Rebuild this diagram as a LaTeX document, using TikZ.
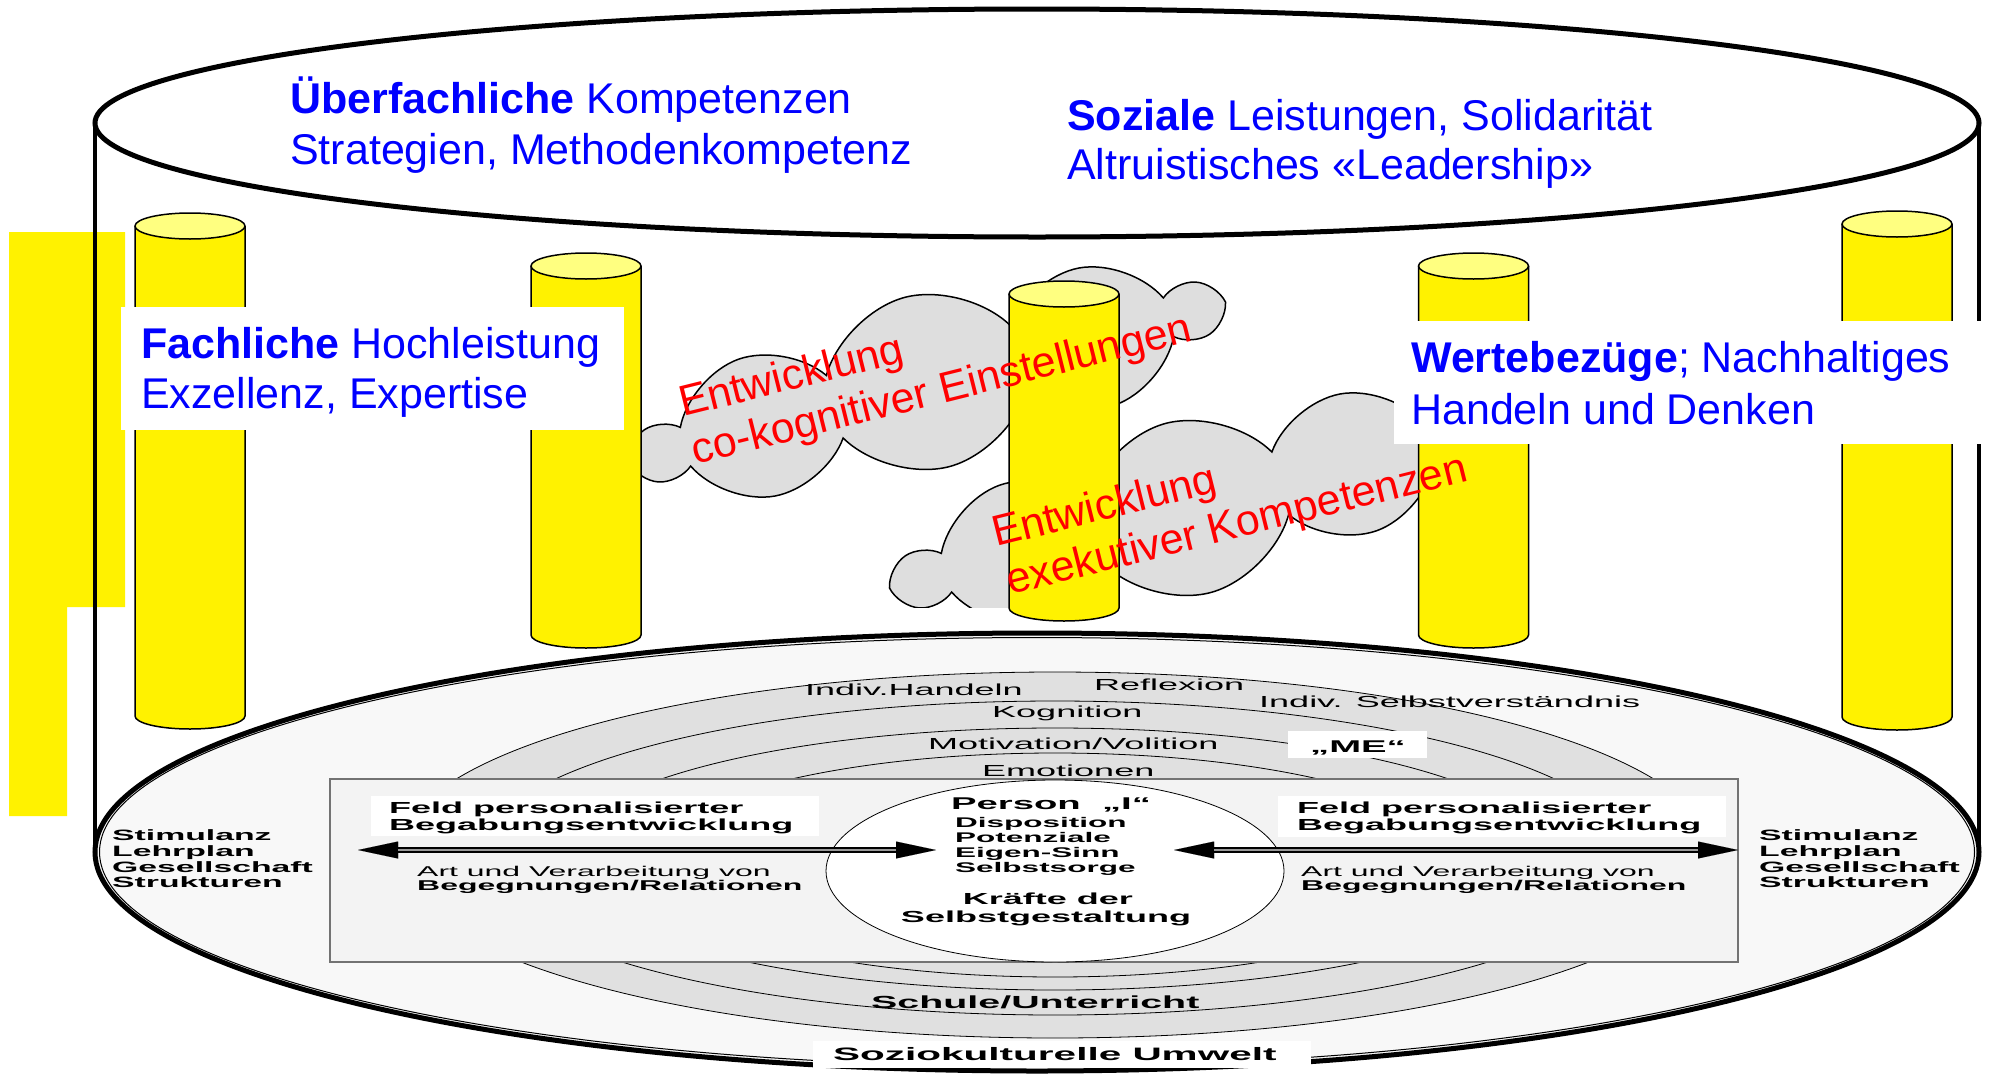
\documentclass[tikz,border=0pt]{standalone}
\usepackage{fontspec}
\setmainfont{Liberation Sans}
\newfontfamily\widefont{Liberation Sans}[FakeStretch=2.25]
\usetikzlibrary{shapes.symbols,arrows.meta}

\definecolor{ringgray}{HTML}{E0E0E0}
\definecolor{basegray}{HTML}{F8F8F8}
\definecolor{boxgray}{HTML}{F3F3F3}
\definecolor{cloudgray}{HTML}{DEDEDE}
\definecolor{pillartopcol}{HTML}{FFFF80}
\definecolor{titleblue}{HTML}{0000FF}
\definecolor{cloudred}{HTML}{FF0000}

\tikzset{
  rim/.style={draw=black, line width=5bp},
  rimside/.style={draw=black, line width=4.5bp},
  pillarline/.style={draw=black, line width=1.5bp},
  pillartop/.style={fill=pillartopcol, draw=black, line width=1.5bp},
  bluetext/.style={text=titleblue, font=\fontsize{43bp}{51bp}\selectfont, inner sep=0pt, anchor=base west},
  redtext/.style={text=cloudred, font=\fontsize{43bp}{51bp}\selectfont, inner sep=0pt, anchor=base west, rotate=14},
  cloudshape/.style={cloud, cloud puffs=10, cloud puff arc=120, cloud ignores aspect,
    fill=cloudgray, draw=black, line width=1.5bp, minimum width=600bp, minimum height=175bp,
    rotate=15, inner sep=0pt},
  ringline/.style={draw=black, line width=0.8bp},
  fieldbox/.style={fill=boxgray, draw=black!55, line width=1.5bp},
  lowreg/.style={font=\widefont\fontsize{#1}{#1}\selectfont, inner sep=0pt, anchor=base west},
  lowbold/.style={font=\widefont\bfseries\fontsize{#1}{#1}\selectfont, inner sep=0pt, anchor=base west},
  relarrow/.style={draw=black, line width=6bp,
    {Triangle[length=40bp 0 0, width=17bp 0 0, line width=0.01bp]}-{Triangle[length=40bp 0 0, width=17bp 0 0, line width=0.01bp]}},
  relcore/.style={draw=black!40, line width=2.5bp, shorten <=40bp, shorten >=40bp},
}

% a yellow column: centre x, top ellipse y, bottom ellipse y
\newcommand{\drawpillar}[3]{%
  \fill[yellow] (#1-55,#2) -- (#1-55,#3) arc[start angle=180, end angle=0, x radius=55, y radius=13] -- (#1+55,#2) -- cycle;
  \draw[pillarline] (#1-55,#2) -- (#1-55,#3) arc[start angle=180, end angle=0, x radius=55, y radius=13] -- (#1+55,#2);
  \filldraw[pillartop] (#1,#2) ellipse[x radius=55, y radius=13];
}

\begin{document}
\begin{tikzpicture}[x=1bp,y=-1bp]
\useasboundingbox (0,0) rectangle (1989,1076);
\fill[white] (0,0) rectangle (1989,1076);

% yellow marker on the left margin
\fill[yellow] (9,232) -- (125,232) -- (125,607) -- (67,607) -- (67,816) -- (9,816) -- cycle;

% floor of the cylinder with its rim
\coordinate (baseC) at (1037,852);
\fill[basegray] (baseC) ellipse[x radius=942, y radius=219];
\draw[rim] (baseC) ellipse[x radius=942, y radius=219];
\draw[draw=black, line width=1bp] (baseC) ellipse[x radius=937.5, y radius=214.5];

% concentric rings around the person
\fill[ringgray] (1055,855) ellipse[x radius=658, y radius=183];
\draw[ringline] (1055,855) ellipse[x radius=658, y radius=183];
\draw[ringline] (1055,858) ellipse[x radius=578, y radius=157];
\draw[ringline] (1055,859) ellipse[x radius=497, y radius=131];
\draw[ringline] (1055,865) ellipse[x radius=411, y radius=112];

% ring labels
\node[lowreg=16bp] (handeln) at (805,695) {Indiv.Handeln};
\node[lowreg=16bp] (reflexion) at (1094,690) {Reflexion};
\node[lowreg=16bp] (selbstv) at (1259,707) {Indiv. Selbstverständnis};
\node[lowreg=16bp] (kognition) at (992,717) {Kognition};
\node[lowreg=16bp] (motivation) at (928,749) {Motivation/Volition};
\node[lowreg=16bp] (emotionen) at (982,776) {Emotionen};
\fill[white] (1288,731) rectangle (1427,758);
\node[lowbold=17bp] (me) at (1310,752) {„ME“};

% field of personalised development
\draw[fieldbox] (330,779) rectangle (1738,962);
\filldraw[fill=white, draw=black, line width=0.8bp] (1055,871) ellipse[x radius=229, y radius=91];

\fill[white] (371,796) rectangle (819,836);
\fill[white] (1278,796) rectangle (1726,837);
\node[lowbold=16bp] (feldL1) at (389,813) {Feld personalisierter};
\node[lowbold=16bp] (feldL2) at (389,830) {Begabungsentwicklung};
\node[lowbold=16bp] (feldR1) at (1297,813) {Feld personalisierter};
\node[lowbold=16bp] (feldR2) at (1297,830) {Begabungsentwicklung};

\coordinate (arrLa) at (358,850);
\coordinate (arrLb) at (936,850);
\coordinate (arrRa) at (1174,850);
\coordinate (arrRb) at (1738,850);
\draw[relarrow] (arrLa) -- (arrLb);
\draw[relcore] (arrLa) -- (arrLb);
\draw[relarrow] (arrRa) -- (arrRb);
\draw[relcore] (arrRa) -- (arrRb);

\node[lowreg=14.2bp] (artL) at (417,876) {Art und Verarbeitung von};
\node[lowbold=14.2bp] (begL) at (417,890) {Begegnungen/Relationen};
\node[lowreg=14.2bp] (artR) at (1301,876) {Art und Verarbeitung von};
\node[lowbold=14.2bp] (begR) at (1301,890) {Begegnungen/Relationen};

% the person
\node[lowbold=17bp, anchor=base] (person) at (1051,809) {Person~~„I“};
\foreach \t/\y [count=\i] in {Disposition/827, Potenziale/842, Eigen-Sinn/857, Selbstsorge/872}
  \node[lowbold=14bp] (pers\i) at (955,\y) {\t};
\node[lowbold=16bp, anchor=base] (kraefte) at (1048,904) {Kräfte der};
\node[lowbold=16bp, anchor=base] (gestalt) at (1046,922) {Selbstgestaltung};

% outer influences
\foreach \t/\y [count=\i] in {Stimulanz/840, Lehrplan/856, Gesellschaft/872, Strukturen/887}{
  \node[lowbold=15bp] (stimL\i) at (112,\y) {\t};
  \node[lowbold=15bp] (stimR\i) at (1759,\y) {\t};
}

\node[lowbold=17.5bp] (schule) at (871,1008) {Schule/Unterricht};
\fill[white] (813,1041) rectangle (1311,1068);
\node[lowbold=18bp] (umwelt) at (833,1060) {Soziokulturelle Umwelt};

% walls and lid of the cylinder
\coordinate (wallLt) at (95,123);
\coordinate (wallLb) at (95,852);
\coordinate (wallRt) at (1979,123);
\coordinate (wallRb) at (1979,852);
\draw[rimside] (wallLt) -- (wallLb);
\draw[rimside] (wallRt) -- (wallRb);
\filldraw[fill=white, rim] (1037,123) ellipse[x radius=942, y radius=114];

\node[bluetext] (ueber1) at (290,113) {\textbf{Überfachliche} Kompetenzen};
\node[bluetext] (ueber2) at (290,164) {Strategien, Methodenkompetenz};
\node[bluetext] (sozial1) at (1067,130) {\textbf{Soziale} Leistungen, Solidarität};
\node[bluetext] (sozial2) at (1067,179) {Altruistisches «Leadership»};

% clouds behind the columns
\node[cloudshape] (cloudA) at (927,382) {};
\begin{scope}
  \clip (0,0) rectangle (1989,607);
  \node[cloudshape] (cloudB) at (1188,508) {};
\end{scope}

% columns
\drawpillar{190}{226}{716}
\drawpillar{586}{266}{635}
\drawpillar{1064}{294}{608}
\drawpillar{1473.5}{266}{635}
\drawpillar{1897}{224}{717}

% labelled panels across the columns
\fill[white] (121,307) rectangle (624,430);
\node[bluetext] (fach1) at (141,358) {\textbf{Fachliche} Hochleistung};
\node[bluetext] (fach2) at (141,408) {Exzellenz, Expertise};
\fill[white] (1394,321) rectangle (1986,444);
\node[bluetext] (werte1) at (1411,372) {\textbf{Wertebezüge}; Nachhaltiges};
\node[bluetext] (werte2) at (1411,424) {Handeln und Denken};

% cloud captions
\node[redtext] (entA1) at (683,417) {Entwicklung};
\node[redtext] (entA2) at (695,465) {co-kognitiver Einstellungen};
\node[redtext] (entB1) at (996,547) {Entwicklung};
\node[redtext] (entB2) at (1010,595) {exekutiver Kompetenzen};
\end{tikzpicture}
\end{document}
